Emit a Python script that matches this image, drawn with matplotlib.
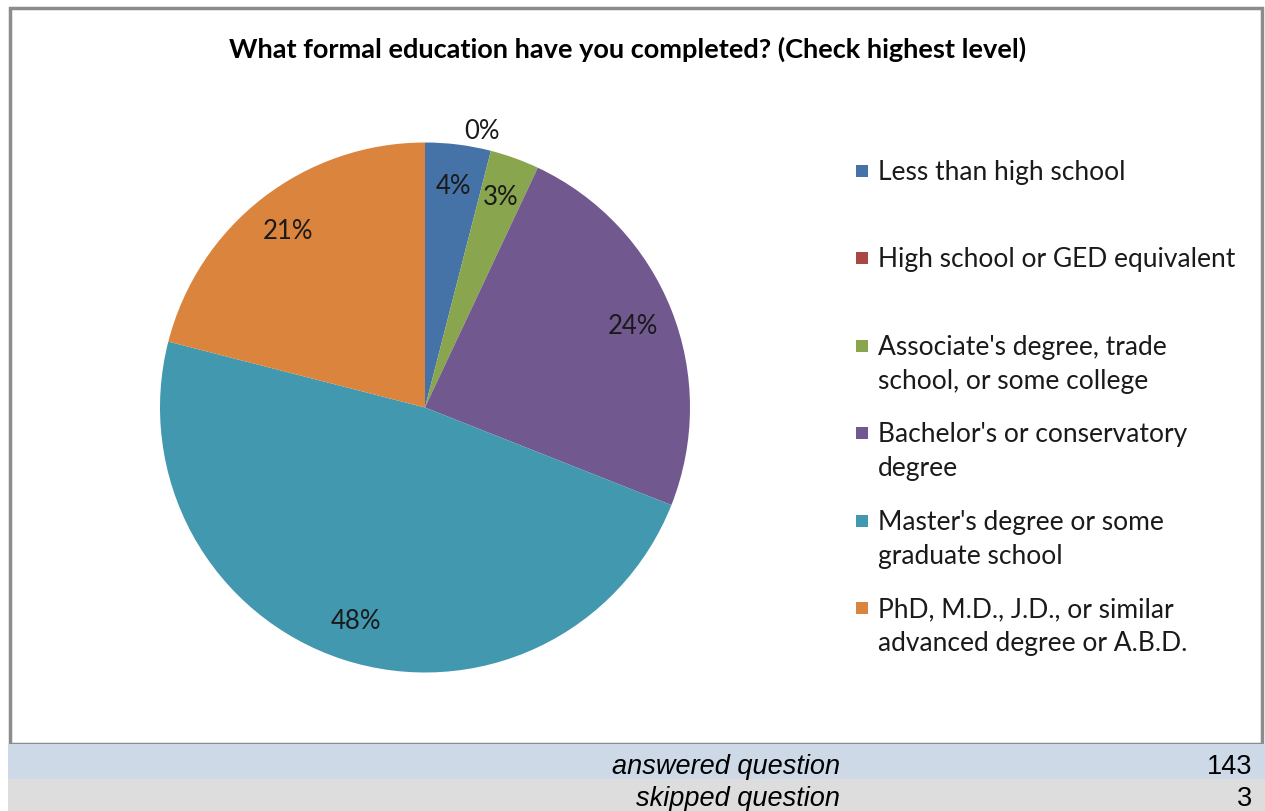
import matplotlib
matplotlib.use("Agg")
import matplotlib.pyplot as plt
from matplotlib.patches import Rectangle
import numpy as np

# Survey data
categories = [
    "Less than high school",
    "High school or GED equivalent",
    "Associate's degree, trade\nschool, or some college",
    "Bachelor's or conservatory\ndegree",
    "Master's degree or some\ngraduate school",
    "PhD, M.D., J.D., or similar\nadvanced degree or A.B.D.",
]
percentages = [4, 0, 3, 24, 48, 21]
colors = ["#4572A7", "#AA4643", "#89A54E", "#71588F", "#4198AF", "#DB843D"]
title = "What formal education have you completed? (Check highest level)"
summary_labels = ["answered question", "skipped question"]
summary_values = [143, 3]

W, H = 1265, 812
fig = plt.figure(figsize=(W / 100, H / 100), dpi=100)
fig.patch.set_facecolor("white")


def fx(px):
    return px / W


def fy(py):
    return 1 - py / H


# Chart frame
fig.patches.append(Rectangle((fx(10), fy(745)), fx(1262) - fx(10), fy(9) - fy(745),
                             transform=fig.transFigure, facecolor="white",
                             edgecolor="#8c8c8c", linewidth=2.5, zorder=-2))

# Summary rows under the chart
row_colors = ["#CDD9E6", "#DDDDDD"]
row_edges = [745, 780, 812]
baselines = [774, 806]
for i, (lab, val) in enumerate(zip(summary_labels, summary_values)):
    y0, y1 = row_edges[i], row_edges[i + 1]
    fig.patches.append(Rectangle((fx(8), fy(y1)), fx(1265) - fx(8), fy(y0) - fy(y1),
                                 transform=fig.transFigure, facecolor=row_colors[i],
                                 edgecolor="none", zorder=-1))
    yb = fy(baselines[i])
    fig.text(fx(840), yb, lab, ha="right", va="baseline", fontsize=19.5,
             family="Liberation Sans", style="italic", color="black")
    fig.text(fx(1252), yb, str(val), ha="right", va="baseline", fontsize=19.5,
             family="Liberation Sans", color="black")

# Title
fig.text(fx(628), fy(58), title, ha="center", va="baseline", fontsize=19.5,
         family="Lato", weight="bold", color="black")

# Pie
cx, cy, r = 425, 408.5, 265
ax = fig.add_axes([fx(cx - r), fy(cy + r), 2 * r / W, 2 * r / H])
wedges, _ = ax.pie(percentages, colors=colors, startangle=90, counterclock=False,
                   wedgeprops=dict(linewidth=0))
ax.set_xlim(-1, 1)
ax.set_ylim(-1, 1)
ax.set_aspect("equal")
ax.axis("off")

for w, p in zip(wedges, percentages):
    mid = np.deg2rad((w.theta1 + w.theta2) / 2)
    dist = 0.845 if p > 0 else 1.08
    x, y = dist * np.cos(mid), dist * np.sin(mid)
    if p == 0:
        x -= 0.055
    ax.text(x, y, f"{p}%", ha="center", va="center", fontsize=18.5,
            family="Lato", color="#1a1a1a")

# Legend
leg_top, leg_step, line_gap = 172, 87.4, 34
for i, (lab, c) in enumerate(zip(categories, colors)):
    yc = leg_top + i * leg_step
    fig.patches.append(Rectangle((fx(856), fy(yc + 6)), fx(12), 12 / H,
                                 transform=fig.transFigure, facecolor=c,
                                 edgecolor="none", zorder=2))
    for j, line in enumerate(lab.split("\n")):
        fig.text(fx(878), fy(yc + 8 + j * line_gap), line, ha="left", va="baseline",
                 fontsize=19, family="Lato", color="#1a1a1a")

fig.savefig("out.png", dpi=100)
